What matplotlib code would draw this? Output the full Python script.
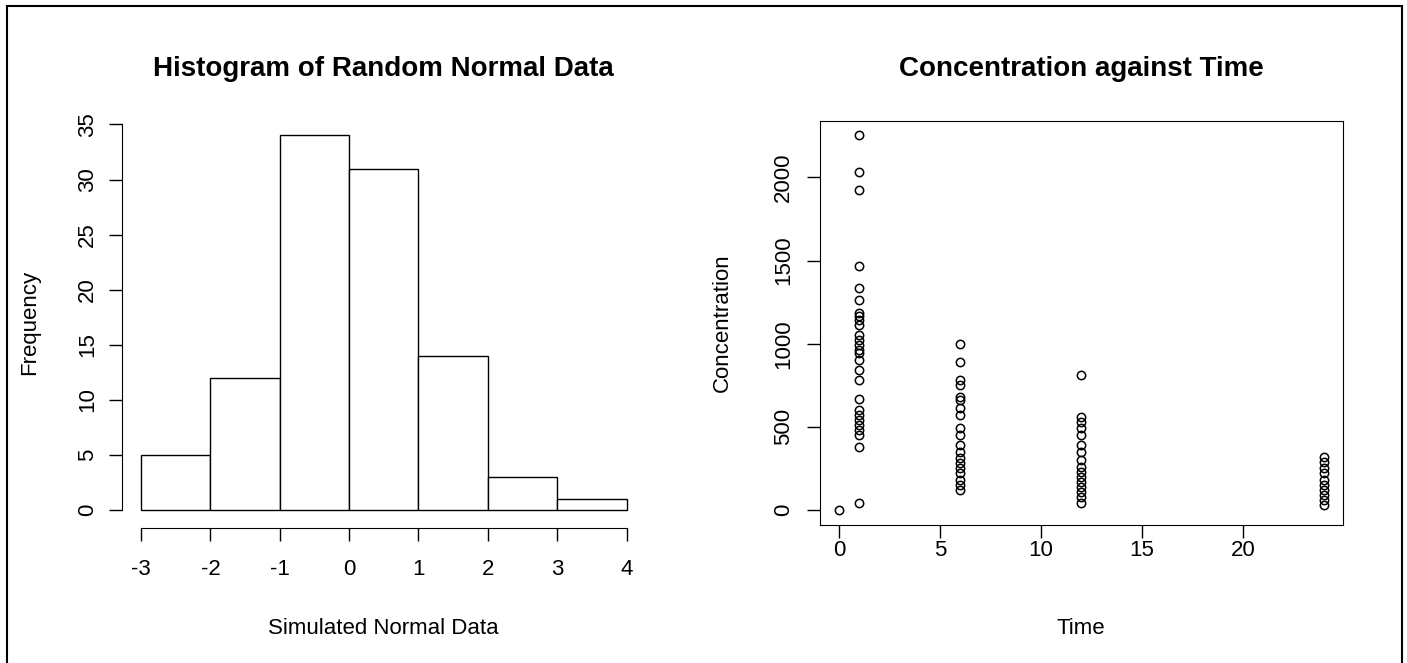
import matplotlib.pyplot as plt
import matplotlib.patches as mpatches
import numpy as np

plt.rcParams['font.family'] = ['Liberation Sans', 'DejaVu Sans']
plt.rcParams['axes.unicode_minus'] = False

# Histogram counts (bin edges -3..4)
bin_edges = [-3, -2, -1, 0, 1, 2, 3, 4]
counts = [5, 12, 34, 31, 14, 3, 1]

# Concentration against time
time_0 = [0]
conc_0 = [0]
time_1 = [1] * 27
conc_1 = [2252, 2030, 1922, 1465, 1333, 1261, 1183, 1165, 1141, 1111, 1051, 1021,
          991, 961, 943, 901, 841, 781, 667, 601, 571, 541, 511, 480, 450, 378, 42]
time_6 = [6] * 19
conc_6 = [997, 889, 781, 751, 679, 661, 613, 571, 492, 450, 390, 348, 312, 282,
          252, 222, 180, 150, 120]
time_12 = [12] * 16
conc_12 = [811, 559, 529, 492, 450, 390, 348, 300, 258, 228, 198, 168, 138, 108,
           78, 42]
time_24 = [24] * 10
conc_24 = [318, 288, 252, 222, 180, 150, 120, 90, 60, 30]

times = time_0 + time_1 + time_6 + time_12 + time_24
concs = conc_0 + conc_1 + conc_6 + conc_12 + conc_24

W, H = 1407, 663
fig = plt.figure(figsize=(W / 100, H / 100), dpi=100)

def fx(px):
    return px / W

def fy(py):
    return 1 - py / H

top, bottom = 120.5, 525
ax1 = fig.add_axes([fx(121.6), fy(bottom), fx(646) - fx(121.6), fy(top) - fy(bottom)])
ax2 = fig.add_axes([fx(819.6), fy(bottom), fx(1343) - fx(819.6), fy(top) - fy(bottom)])

fs = 16
tick_kw = dict(labelsize=fs, length=9.5, width=1, color='black')

# Histogram
ax1.bar(bin_edges[:-1], counts, width=np.diff(bin_edges), align='edge',
        facecolor='white', edgecolor='black', linewidth=1)
ax1.set_xlim(-3.28, 4.28)
ax1.set_ylim(-1.36, 35.36)
ax1.set_xticks(range(-3, 5))
ax1.set_yticks(range(0, 36, 5))
for s in ['top', 'right']:
    ax1.spines[s].set_visible(False)
ax1.spines['left'].set_bounds(0, 35)
ax1.spines['bottom'].set_bounds(-3, 4)
ax1.spines['bottom'].set_position(('outward', 2))
ax1.tick_params(**tick_kw)
ax1.tick_params(axis='x', pad=13)
ax1.tick_params(axis='y', pad=7.5)
for lab in ax1.get_yticklabels():
    lab.set_rotation(90)
    lab.set_va('center')
ax1.set_title('Histogram of Random Normal Data', fontsize=20, fontweight='bold', pad=32)
ax1.set_xlabel('Simulated Normal Data', fontsize=fs, labelpad=27)
ax1.set_ylabel('Frequency', fontsize=fs, labelpad=26.5)

# Scatter
ax2.plot(times, concs, linestyle='none', marker='o', markersize=6,
         markerfacecolor='none', markeredgecolor='black', markeredgewidth=1.1)
ax2.set_xlim(-0.96, 24.96)
ax2.set_ylim(-90, 2342)
ax2.set_xticks(range(0, 21, 5))
ax2.set_yticks(range(0, 2001, 500))
ax2.tick_params(**tick_kw)
ax2.tick_params(axis='x', pad=1)
ax2.tick_params(axis='y', pad=9)
for lab in ax2.get_yticklabels():
    lab.set_rotation(90)
    lab.set_va('center')
ax2.set_title('Concentration against Time', fontsize=20, fontweight='bold', pad=32)
ax2.set_xlabel('Time', fontsize=fs, labelpad=41.5)
ax2.set_ylabel('Concentration', fontsize=fs, labelpad=28.6)

fig.patches.append(mpatches.Rectangle((fx(7), -0.05), fx(1402) - fx(7), fy(6) + 0.05,
                                      transform=fig.transFigure, fill=False,
                                      edgecolor='black', linewidth=1.5))

fig.savefig('out.png', dpi=100)
